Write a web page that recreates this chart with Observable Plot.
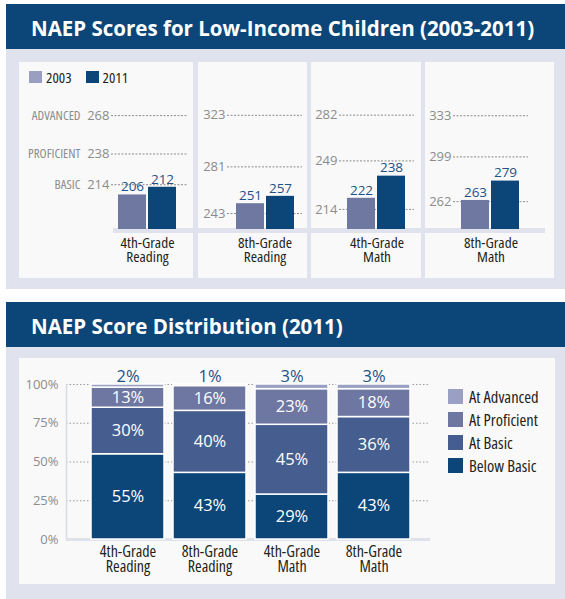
<!DOCTYPE html>
<html><head><meta charset="utf-8">
<script src="https://cdn.jsdelivr.net/npm/d3@7"></script>
<script src="https://cdn.jsdelivr.net/npm/@observablehq/plot@0.6"></script>
<style>
body{margin:0;background:#fff;}
#root{position:relative;width:565px;height:599px;overflow:hidden;font-family:'Open Sans',sans-serif;}
#root>div{position:absolute;}
.hdr{background:#0c4679;color:#fff;font-family:'Open Sans',sans-serif;font-weight:700;font-stretch:100%;font-size:20.5px;line-height:45px;padding:2px 0 0 25px;box-sizing:border-box;white-space:nowrap;}
.gray{background:#e0e3ed;}
.panel{background:#f9f9f9;}
.lg{display:flex;align-items:center;font-family:'Open Sans',sans-serif;font-stretch:75%;color:#231f20;}
.sw{display:inline-block;}
svg{overflow:visible;}
svg [font-family^="'OSC'"]{font-stretch:75%;}
</style></head><body><div id="root"></div>
<script>
// ---------- data ----------
const subjects = ["4th-Grade\nReading", "8th-Grade\nReading", "4th-Grade\nMath", "8th-Grade\nMath"];
const years = ["2003", "2011"];
const scores2003 = [206, 251, 222, 263];
const scores2011 = [212, 257, 238, 279];
const levelNames = ["BASIC", "PROFICIENT", "ADVANCED"];
const basicCut = [214, 243, 214, 262];
const proficientCut = [238, 281, 249, 299];
const advancedCut = [268, 323, 282, 333];

const levels = ["Below Basic", "At Basic", "At Proficient", "At Advanced"];
const belowBasic = [55, 43, 29, 43];
const atBasic = [30, 40, 45, 36];
const atProficient = [13, 16, 23, 18];
const atAdvanced = [2, 1, 3, 3];
const pctTicks = [0, 25, 50, 75, 100];

const title1 = "NAEP Scores for Low-Income Children (2003-2011)";
const title2 = "NAEP Score Distribution (2011)";

// ---------- styles ----------
const COND = "'OSC','Open Sans',sans-serif";
const NUM = "'Open Sans',sans-serif";
const yearColors = ["#6e78a0", "#0c4679"];
const yearLegendColors = ["#9a9fc1", "#0c4679"];
const levelColors = ["#0c4679", "#465e8f", "#6d77a2", "#9aa0c3"];
const valueBlue = "#1d5289";
const tickGray = "#8c8c8c";
const darkText = "#231f20";

const root = document.getElementById("root");
function box(cls, l, t, w, h, html) {
  const d = document.createElement("div");
  d.className = cls;
  Object.assign(d.style, {left: l + "px", top: t + "px", width: w + "px", height: h + "px"});
  if (html) d.textContent = html;
  root.appendChild(d);
  return d;
}

// ---------- top panel ----------
box("hdr", 6, 4, 559, 45, title1);
box("gray", 6, 49, 559, 240);
const facetLayout = [
  {l: 19, w: 174, mL: 92, mR: 6, xr: [99, 157], dom: [179, 309.5]},
  {l: 198, w: 109, mL: 29, mR: 5, xr: [37, 96], dom: [230, 366]},
  {l: 311, w: 110, mL: 28, mR: 7, xr: [35, 94], dom: [199.5, 320]},
  {l: 425, w: 129, mL: 28, mR: 26, xr: [36, 94], dom: [239, 377]}
];
facetLayout.forEach(f => box("panel", f.l, 62, f.w, 216));
box("gray", 113, 228, 432, 5);

// legend (top)
const lg1 = box("lg", 29, 70, 160, 14);
years.forEach((y, j) => {
  const sw = document.createElement("span");
  sw.className = "sw";
  Object.assign(sw.style, {width: "13px", height: "12px", background: yearLegendColors[j], marginRight: "4px", marginLeft: j ? "14px" : "0", flex: "none"});
  const t = document.createElement("span");
  t.textContent = y;
  t.style.fontSize = "15px";
  lg1.appendChild(sw); lg1.appendChild(t);
});

facetLayout.forEach((f, i) => {
  const rows = years.map((yr, j) => ({year: yr, score: j ? scores2011[i] : scores2003[i]}));
  const cuts = [basicCut[i], proficientCut[i], advancedCut[i]].map((v, k) => ({name: levelNames[k], v}));
  const marks = [
    Plot.ruleY(cuts, {y: "v", stroke: tickGray, strokeDasharray: "2,1.5"}),
    Plot.barY(rows, {x: "year", y: "score", fill: "year", clip: true}),
    Plot.text(rows, {x: "year", y: "score", text: "score", dy: -8, fill: valueBlue, fontSize: 13.5, fontFamily: NUM}),
    Plot.text(cuts, {y: "v", text: "v", frameAnchor: "left", dx: -2, textAnchor: "end", fill: tickGray, fontSize: 13, fontFamily: NUM}),
    Plot.text([subjects[i]], {frameAnchor: "bottom", lineAnchor: "top", dy: 8, dx: i === 0 ? -2 : 0, lineHeight: 0.93, fill: darkText, fontSize: 15.3, fontFamily: COND})
  ];
  if (i === 0) marks.push(Plot.text(cuts, {y: "v", text: "name", frameAnchor: "left", dx: -31, textAnchor: "end", fill: tickGray, fontSize: 13, fontFamily: COND}));
  const svg = Plot.plot({
    width: f.w, height: 216, marginLeft: f.mL, marginRight: f.mR, marginTop: 0, marginBottom: 49,
    x: {domain: years, range: f.xr, paddingInner: 0.07, paddingOuter: 0, axis: null},
    y: {domain: f.dom, axis: null},
    color: {domain: years, range: yearColors},
    style: {background: "transparent", overflow: "visible"},
    marks
  });
  const holder = box("", f.l, 62, f.w, 216);
  holder.appendChild(svg);
});

// ---------- bottom panel ----------
box("hdr", 6, 302, 559, 45, title2);
box("gray", 6, 347, 559, 252);
box("panel", 19, 358, 536, 226);

const series = [belowBasic, atBasic, atProficient, atAdvanced];
const dist = subjects.flatMap((s, i) => levels.map((lv, k) => ({subject: s, level: lv, value: series[k][i]})));

const svg2 = Plot.plot({
  width: 536, height: 226, marginLeft: 47, marginRight: 125, marginTop: 26, marginBottom: 45,
  x: {domain: subjects, range: [71, 393], paddingInner: 0.108, paddingOuter: 0, axis: null},
  y: {domain: [0, 100], axis: null},
  color: {domain: levels, range: levelColors},
  style: {background: "transparent", overflow: "visible"},
  marks: [
    Plot.ruleY(pctTicks.filter(t => t > 0), {stroke: "#9a9a9a", strokeDasharray: "1.5,2"}),
    Plot.frame({anchor: "left", stroke: "#d9dce6", strokeWidth: 1.5}),
    Plot.ruleY([0], {stroke: "#dfe2ea", strokeWidth: 3}),
    Plot.barY(dist, {x: "subject", y: "value", fill: "level", order: levels, stroke: "white", strokeWidth: 1.5}),
    Plot.text(dist, Plot.stackY({x: "subject", y: "value", z: "level", order: levels, filter: d => d.level !== levels[3], text: d => d.value + "%", fill: "white", fontSize: 16.5, fontFamily: NUM})),
    Plot.text(dist.filter(d => d.level === levels[3]), {x: "subject", frameAnchor: "top", dy: -14, text: d => d.value + "%", fill: valueBlue, fontSize: 16.5, fontFamily: NUM}),
    Plot.text(pctTicks, {y: d => d, frameAnchor: "left", dx: -8, textAnchor: "end", text: d => d + "%", fill: tickGray, fontSize: 13, fontFamily: NUM}),
    Plot.text(subjects, {x: d => d, frameAnchor: "bottom", lineAnchor: "top", dy: 7, lineHeight: 0.95, fill: darkText, fontSize: 16, fontFamily: COND})
  ]
});
const holder2 = box("", 19, 358, 536, 226);
holder2.appendChild(svg2);

// legend (bottom)
const legendOrder = levels.slice().reverse();
legendOrder.forEach((lv, r) => {
  const row = box("lg", 448, 389 + r * 23, 110, 15);
  const sw = document.createElement("span");
  sw.className = "sw";
  Object.assign(sw.style, {width: "15px", height: "15px", background: levelColors[levels.indexOf(lv)], marginRight: "6px", flex: "none"});
  const t = document.createElement("span");
  t.textContent = lv;
  t.style.fontSize = "16.5px";
  t.style.whiteSpace = "nowrap";
  row.appendChild(sw); row.appendChild(t);
});
</script></body></html>
